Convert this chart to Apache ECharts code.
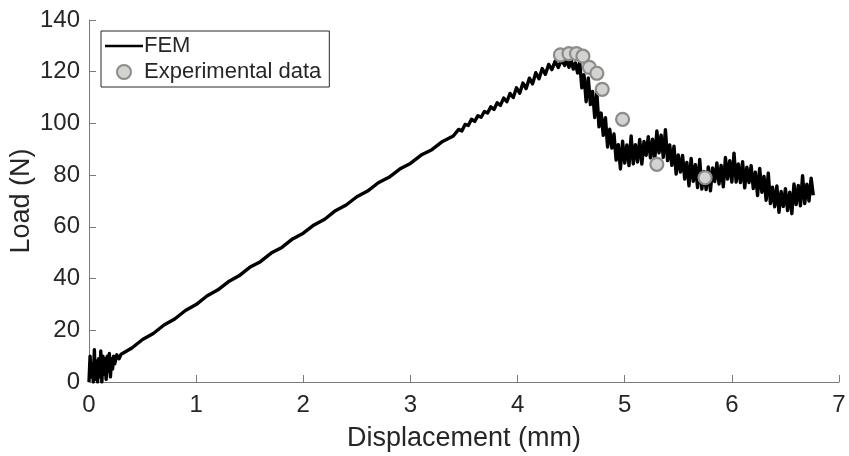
<!DOCTYPE html>
<html>
<head>
<meta charset="utf-8">
<script src="https://cdn.jsdelivr.net/npm/echarts@6/dist/echarts.min.js"></script>
<style>
html,body{margin:0;padding:0;background:#fff;}
#chart{width:849px;height:456px;}
</style>
</head>
<body>
<div id="chart"></div>
<script>
// FEM simulation (noisy trace)
var femX = [
0.00,0.01,0.02,0.03,0.04,0.05,0.06,0.07,0.08,0.09,0.10,0.11,0.12,0.13,0.14,0.15,0.16,0.17,0.18,0.19,0.20,0.21,0.22,0.23,0.24,0.26,0.28,
0.3,0.4,0.5,0.6,0.7,0.8,0.9,1.0,1.1,1.2,1.3,1.4,1.5,1.6,1.7,1.8,1.9,2.0,2.1,2.2,2.3,2.4,2.5,2.6,2.7,2.8,2.9,3.0,3.1,3.2,3.3,3.4,
3.45,3.48,3.51,3.54,3.57,3.60,3.63,3.66,3.69,3.72,3.75,3.78,3.81,3.84,3.87,3.90,3.93,3.96,3.99,4.02,4.05,4.08,4.11,4.14,4.17,4.20,4.23,4.26,4.29,4.32,4.35,4.38,4.41,4.44,
4.46,4.48,4.50,4.52,4.54,4.56,4.58,4.60,4.62,4.64,4.66,4.68,4.70,4.72,4.74,4.76,4.78,4.80,4.82,4.84,4.86,4.88,4.90,4.92,4.94,4.96,4.98,
5.00,5.02,5.04,5.06,5.08,5.10,5.12,5.14,5.16,5.18,5.20,5.22,5.24,5.26,5.28,5.30,5.32,5.34,5.36,5.38,5.40,5.42,5.44,5.46,5.48,
5.50,5.52,5.54,5.56,5.58,5.60,5.62,5.64,5.66,5.68,5.70,5.72,5.74,5.76,5.78,5.80,5.82,5.84,5.86,5.88,5.90,5.92,5.94,5.96,5.98,
6.00,6.02,6.04,6.06,6.08,6.10,6.12,6.14,6.16,6.18,6.20,6.22,6.24,6.26,6.28,6.30,6.32,6.34,6.36,6.38,6.40,6.42,6.44,6.46,6.48,
6.50,6.52,6.54,6.56,6.58,6.60,6.62,6.64,6.66,6.68,6.70,6.72,6.74,6.76
];
var femY = [
0,10,2,7,0,12.5,1,8,0,9,2,12,0,10,3,9,1,10,4,11,2,9,5,10,7,10.5,9.0,
10.75,13.15,16.45,18.75,22.05,24.35,27.65,29.95,33.25,35.55,38.75,41.05,44.35,46.55,49.85,52.05,55.35,57.55,60.75,62.95,66.25,68.45,71.65,73.85,77.05,79.15,82.35,84.55,87.75,89.85,93.05,95.15,
97.7,97.1,99.6,99.2,101.6,100.8,103.0,102.4,104.6,104.0,106.4,105.4,108.0,107.0,109.8,108.4,111.6,110.0,113.8,111.7,115.6,113.5,117.5,115.3,119.6,117.3,121.2,119.0,122.8,120.8,124.0,121.6,124.6,122.4,
124.9,121.7,124.5,121.0,123.4,119.5,123.7,113.8,118.8,108.4,117.6,107.3,112.4,102.3,111.7,98.7,104.0,95.4,102.2,90.9,97.8,90.5,95.9,85.8,91.8,82.4,93.1,
84.7,91.7,83.7,95.2,84.4,91.8,85.1,93.8,84.3,93.0,87.7,94.9,86.7,93.9,85.7,97.1,88.6,95.5,86.9,97.6,85.6,91.7,83.8,91.2,80.4,
87.8,81.2,87.6,78.5,84.9,75.9,86.5,77.6,84.0,75.2,86.1,74.6,81.4,74.4,83.2,73.9,82.8,77.5,84.7,76.6,83.8,75.5,86.8,78.5,85.6,
77.3,88.5,77.3,84.3,77.1,85.2,75.1,83.1,77.1,83.7,74.8,81.1,72.1,82.6,73.4,79.5,70.3,80.8,69.0,75.3,67.8,75.8,65.6,73.7,67.9,
74.8,66.3,73.4,65.1,76.6,68.6,76.0,68.1,79.8,69.0,76.5,70.0,78.8,72.2
];
// Experimental data
var expX = [4.40, 4.48, 4.55, 4.61, 4.67, 4.74, 4.79, 4.98, 5.30, 5.75];
var expY = [126.5, 127.0, 127.0, 126.0, 121.7, 119.4, 113.2, 101.6, 84.2, 79.0];

var xTicks = [0, 1, 2, 3, 4, 5, 6, 7];
var yTicks = [0, 20, 40, 60, 80, 100, 120, 140];

var femData = femX.map(function (x, i) { return [x, femY[i]]; });
var expData = expX.map(function (x, i) { return [x, expY[i]]; });

var font = "'Liberation Sans', Arial, Helvetica, sans-serif";
var axisColor = '#7a7a7a';
var textColor = '#262626';

var chart = echarts.init(document.getElementById('chart'), null, {renderer: 'canvas'});
chart.setOption({
  animation: false,
  backgroundColor: '#ffffff',
  grid: {left: 89, right: 10, top: 20, bottom: 74, containLabel: false, outerBoundsMode: 'none'},
  legend: {
    orient: 'vertical',
    left: 101, top: 31,
    padding: [4, 8, 4, 4],
    itemGap: 4,
    itemWidth: 38,
    itemHeight: 14,
    borderColor: '#262626',
    borderWidth: 1,
    backgroundColor: '#ffffff',
    textStyle: {fontFamily: font, fontSize: 22, color: textColor, padding: [0, 0, 0, -4]},
    data: [
      {name: 'FEM', icon: 'path://M0,0 L38,0 L38,2.6 L0,2.6 Z', itemStyle: {color: '#000000'}},
      {name: 'Experimental data'}
    ]
  },
  xAxis: {
    type: 'value', min: xTicks[0], max: xTicks[xTicks.length - 1], interval: 1,
    name: 'Displacement (mm)', nameLocation: 'middle', nameGap: 43, nameMoveOverlap: false,
    nameTextStyle: {fontFamily: font, fontSize: 27, color: textColor},
    axisLine: {show: true, lineStyle: {color: axisColor, width: 1}},
    axisTick: {show: true, inside: true, length: 7, lineStyle: {color: axisColor}},
    axisLabel: {fontFamily: font, fontSize: 24, color: textColor, margin: 11},
    splitLine: {show: false}
  },
  yAxis: {
    type: 'value', min: yTicks[0], max: yTicks[yTicks.length - 1], interval: 20,
    name: 'Load (N)', nameLocation: 'middle', nameGap: 54, nameMoveOverlap: false,
    nameTextStyle: {fontFamily: font, fontSize: 27, color: textColor},
    axisLine: {show: true, lineStyle: {color: axisColor, width: 1}},
    axisTick: {show: true, inside: true, length: 7, lineStyle: {color: axisColor}},
    axisLabel: {fontFamily: font, fontSize: 24, color: textColor, margin: 9},
    splitLine: {show: false}
  },
  series: [
    {
      name: 'FEM', type: 'line', data: femData,
      symbol: 'none', showSymbol: false,
      lineStyle: {color: '#000000', width: 3.4, join: 'round'},
      itemStyle: {color: '#000000'},
      z: 2
    },
    {
      name: 'Experimental data', type: 'scatter', data: expData,
      symbol: 'circle', symbolSize: 13,
      itemStyle: {color: '#d3d3d0', borderColor: '#8c8c8c', borderWidth: 2.2, opacity: 1},
      z: 3
    }
  ]
});
</script>
</body>
</html>
